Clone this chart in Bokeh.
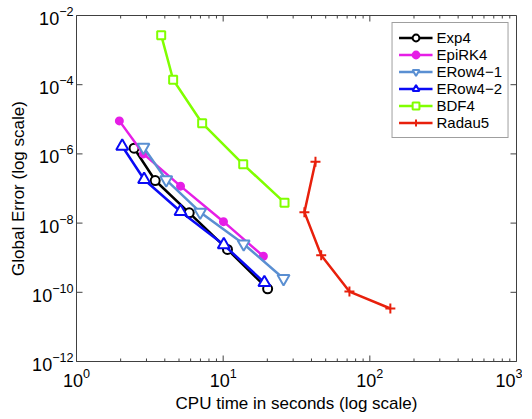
from bokeh.plotting import figure
from bokeh.models import FixedTicker, Legend
from bokeh.embed import file_html
from bokeh.resources import INLINE

# Data
exp4_t = [2.47, 3.44, 5.87, 10.7, 20.1]
exp4_err = [1.46e-6, 1.7e-7, 1.98e-8, 1.73e-9, 1.26e-10]

epirk4_t = [1.96, 2.86, 5.12, 10.05, 18.8]
epirk4_err = [9.0e-6, 1.0e-6, 1.17e-7, 1.1e-8, 1.1e-9]

erow41_t = [2.86, 4.09, 6.97, 13.8, 25.8]
erow41_err = [1.56e-6, 1.78e-7, 2.07e-8, 2.5e-9, 2.5e-10]

erow42_t = [2.05, 2.89, 5.12, 10.1, 19.1]
erow42_err = [1.67e-6, 1.82e-7, 2.16e-8, 2.36e-9, 1.9e-10]

bdf4_t = [3.78, 4.56, 7.19, 13.7, 26.2]
bdf4_err = [2.7e-3, 1.39e-4, 7.7e-6, 5.0e-7, 3.9e-8]

radau5_t = [42.6, 35.8, 46.6, 72.6, 138.0]
radau5_err = [5.9e-7, 2.07e-8, 1.18e-9, 1.05e-10, 3.4e-11]

x_lim = [1, 1000]
y_lim = [1e-12, 1e-2]
x_major = [1, 10, 100, 1000]
x_minor = [m * d for d in (1, 10, 100) for m in range(2, 10)]
y_major = [1e-12, 1e-10, 1e-8, 1e-6, 1e-4, 1e-2]

FONT = "Liberation Sans"
AXIS_COLOR = "#404040"

p = figure(frame_width=440, frame_height=346, x_axis_type="log", y_axis_type="log",
           x_range=(x_lim[0], x_lim[1]), y_range=(y_lim[0], y_lim[1]),
           output_backend="svg", toolbar_location=None,
           min_border_left=76, min_border_right=6, min_border_top=15, min_border_bottom=4)
p.xgrid.visible = False
p.ygrid.visible = False
p.outline_line_color = AXIS_COLOR
p.background_fill_color = None
p.border_fill_color = None

xa = p.xaxis[0]
ya = p.yaxis[0]
for ax, ticks in ((xa, x_major), (ya, y_major)):
    ax.ticker = FixedTicker(ticks=ticks, minor_ticks=[])
    ax.major_tick_in = 0
    ax.major_tick_out = 0
    ax.minor_tick_in = 0
    ax.minor_tick_out = 0
    ax.axis_line_color = AXIS_COLOR
    ax.major_label_text_font = FONT
    ax.major_label_text_color = "black"
    ax.major_label_text_font_size = "18px"
    ax.axis_label_text_font = FONT
    ax.axis_label_text_font_size = "17px"
    ax.axis_label_text_font_style = "normal"
    ax.axis_label_text_color = "black"
xa.axis_label = "CPU time in seconds (log scale)"
ya.axis_label = "Global Error (log scale)"
xa.major_label_standoff = 6
ya.major_label_standoff = 3
xa.axis_label_standoff = 4
ya.axis_label_standoff = 1

# Inward tick marks on all four sides (box style), drawn from the tick lists
TICK = dict(line_color=AXIS_COLOR, line_width=1, length_units="screen", angle_units="deg")
nmaj, nmin, ny = len(x_major), len(x_minor), len(y_major)
p.ray(x=x_major, y=[y_lim[0]] * nmaj, length=6, angle=90, **TICK)
p.ray(x=x_major, y=[y_lim[1]] * nmaj, length=6, angle=-90, **TICK)
p.ray(x=x_minor, y=[y_lim[0]] * nmin, length=3, angle=90, **TICK)
p.ray(x=x_minor, y=[y_lim[1]] * nmin, length=3, angle=-90, **TICK)
p.ray(x=[x_lim[0]] * ny, y=y_major, length=6, angle=0, **TICK)
p.ray(x=[x_lim[1]] * ny, y=y_major, length=6, angle=180, **TICK)

LW = 2.5
series = [
    ("Exp4", exp4_t, exp4_err, "black", "circle", 9, "white"),
    ("EpiRK4", epirk4_t, epirk4_err, "#e61ee6", "circle", 7, "#e61ee6"),
    ("ERow4\u22121", erow41_t, erow41_err, "#5a8fd2", "inverted_triangle", 12, "white"),
    ("ERow4\u22122", erow42_t, erow42_err, "#0a0af5", "triangle", 12, "white"),
    ("BDF4", bdf4_t, bdf4_err, "#80ff00", "square", 8, "white"),
    ("Radau5", radau5_t, radau5_err, "#e8200c", "cross", 10, None),
]

items = []
for name, xs, ys, col, mk, sz, fill in series:
    r1 = p.line(xs, ys, line_color=col, line_width=LW)
    r2 = p.scatter(xs, ys, marker=mk, size=sz, line_color=col, line_width=2,
                   fill_color=fill if fill else None)
    items.append((name, [r1, r2]))

legend = Legend(items=items, location="top_right")
legend.label_text_font = FONT
legend.label_text_font_size = "15px"
legend.label_text_color = "black"
legend.border_line_color = AXIS_COLOR
legend.border_line_width = 1
legend.background_fill_color = "white"
legend.background_fill_alpha = 1
legend.glyph_width = 34
legend.glyph_height = 17
legend.label_height = 17
legend.spacing = 0
legend.padding = 6
legend.margin = 7
legend.label_standoff = 4
p.add_layout(legend)

open("out.html", "w").write(file_html(p, INLINE))
